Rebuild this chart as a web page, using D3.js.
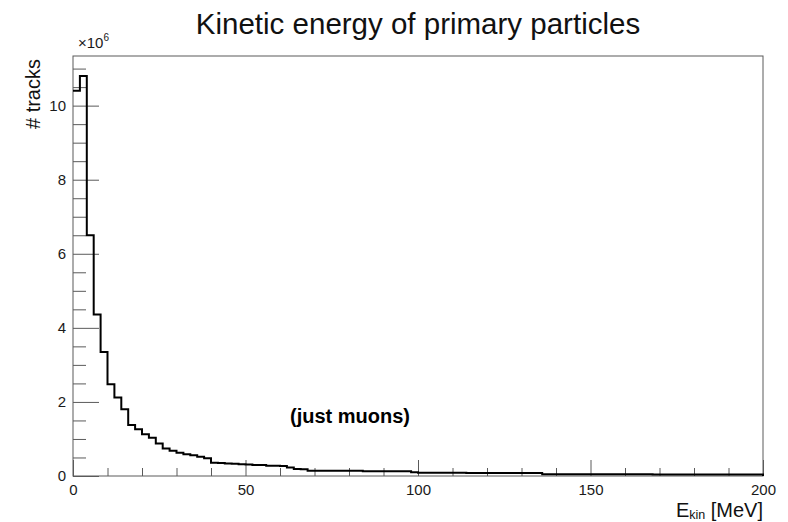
<!DOCTYPE html>
<html>
<head>
<meta charset="utf-8">
<script src="https://cdn.jsdelivr.net/npm/d3@7"></script>
<style>
  html, body { margin: 0; padding: 0; background: #fff; }
  svg { display: block; font-family: "Liberation Sans", Arial, Helvetica, sans-serif; }
</style>
</head>
<body>
<svg id="chart" width="788" height="522"></svg>
<script>
// Histogram of primary-particle kinetic energy: 100 bins of 2 MeV from 0 to 200 MeV.
// Bin contents are in units of 10^6 tracks.
const binWidth = 2;
const xRange = [0, 200];
const counts = [
  10.40, 10.80, 6.50, 4.36, 3.35, 2.48, 2.12, 1.80, 1.38, 1.26,
  1.13, 1.03, 0.88, 0.74, 0.68, 0.63, 0.59, 0.56, 0.52, 0.48,
  0.36, 0.35, 0.34, 0.33, 0.32, 0.31, 0.30, 0.30, 0.28, 0.28,
  0.27, 0.23, 0.19, 0.18, 0.14, 0.14, 0.14, 0.14, 0.14, 0.14,
  0.14, 0.14, 0.13, 0.13, 0.13, 0.13, 0.13, 0.13, 0.13, 0.10,
  0.09, 0.09, 0.09, 0.09, 0.09, 0.09, 0.09, 0.08, 0.08, 0.08,
  0.08, 0.08, 0.08, 0.08, 0.08, 0.08, 0.08, 0.08, 0.05, 0.05,
  0.05, 0.05, 0.05, 0.05, 0.05, 0.05, 0.05, 0.05, 0.05, 0.05,
  0.05, 0.05, 0.05, 0.05, 0.04, 0.04, 0.04, 0.04, 0.04, 0.04,
  0.04, 0.04, 0.04, 0.04, 0.04, 0.04, 0.04, 0.04, 0.04, 0.04
];
const xMajorTicks = [0, 50, 100, 150, 200];
const yMajorTicks = [0, 2, 4, 6, 8, 10];

const titleText = "Kinetic energy of primary particles";
const yTitle = "# tracks";
const noteText = "(just muons)";

const frame = { left: 73, right: 763, top: 56, bottom: 476 };
const yMax = 1.05 * d3.max(counts);

const svg = d3.select("#chart");

const x = d3.scaleLinear().domain(xRange).range([frame.left, frame.right]);
const y = d3.scaleLinear().domain([0, yMax]).range([frame.bottom, frame.top]);

const frameColor = "#5a5a5a";

// frame box
svg.append("rect")
  .attr("x", frame.left).attr("y", frame.top)
  .attr("width", frame.right - frame.left)
  .attr("height", frame.bottom - frame.top)
  .attr("fill", "none")
  .attr("stroke", frameColor)
  .attr("stroke-width", 1);

// minor ticks
const xMinor = d3.range(0, 201, 10).filter(v => v % 50 !== 0);
const yMinor = d3.range(0, yMax, 0.5).filter(v => Math.abs(v % 2) > 1e-9);

const xAxisMinor = d3.axisBottom(x).tickValues(xMinor).tickSizeInner(-8).tickSizeOuter(0).tickFormat("");
const xAxisMajor = d3.axisBottom(x).tickValues(xMajorTicks).tickSizeInner(-16).tickSizeOuter(0)
  .tickPadding(8).tickFormat(d3.format("d"));
const yAxisMinor = d3.axisLeft(y).tickValues(yMinor).tickSizeInner(-13).tickSizeOuter(0).tickFormat("");
const yAxisMajor = d3.axisLeft(y).tickValues(yMajorTicks).tickSizeInner(-26).tickSizeOuter(0)
  .tickPadding(7).tickFormat(d3.format("d"));

function styleAxis(g) {
  g.select(".domain").remove();
  g.selectAll(".tick line").attr("stroke", frameColor).attr("stroke-width", 1);
  g.selectAll(".tick text").attr("fill", "#1a1a1a").style("font-size", "15px");
}

svg.append("g").attr("transform", `translate(0,${frame.bottom})`).call(xAxisMinor).call(styleAxis);
svg.append("g").attr("transform", `translate(0,${frame.bottom})`).call(xAxisMajor).call(styleAxis);
svg.append("g").attr("transform", `translate(${frame.left},0)`).call(yAxisMinor).call(styleAxis);
svg.append("g").attr("transform", `translate(${frame.left},0)`).call(yAxisMajor).call(styleAxis);

// histogram outline
const pts = [];
counts.forEach((c, i) => {
  const lo = xRange[0] + i * binWidth;
  pts.push([lo, c], [lo + binWidth, c]);
});
pts.push([xRange[1], 0]);
const line = d3.line().x(d => x(d[0])).y(d => y(d[1]));
svg.append("path")
  .attr("d", line(pts))
  .attr("fill", "none")
  .attr("stroke", "#000")
  .attr("stroke-width", 2)
  .attr("stroke-linejoin", "miter");

// title
svg.append("text")
  .attr("x", 418).attr("y", 34)
  .attr("text-anchor", "middle")
  .attr("fill", "#111")
  .style("font-size", "29.5px")
  .text(titleText);

// exponent label
const expo = svg.append("text")
  .attr("x", 78).attr("y", 48)
  .attr("fill", "#1a1a1a")
  .style("font-size", "15px");
expo.append("tspan").text("\u00d710");
expo.append("tspan").attr("dy", -7).style("font-size", "10px").text("6");

// y-axis title
svg.append("text")
  .attr("transform", `translate(40,${frame.top + 3}) rotate(-90)`)
  .attr("text-anchor", "end")
  .attr("fill", "#111")
  .style("font-size", "20px")
  .text(yTitle);

// x-axis title
const xt = svg.append("text")
  .attr("x", frame.right).attr("y", 517)
  .attr("text-anchor", "end")
  .attr("fill", "#111")
  .style("font-size", "20px");
xt.append("tspan").text("E");
xt.append("tspan").attr("dy", 2).style("font-size", "12.5px").text("kin");
xt.append("tspan").attr("dy", -2).text(" [MeV]");

// annotation
svg.append("text")
  .attr("x", 350).attr("y", 423)
  .attr("text-anchor", "middle")
  .attr("fill", "#000")
  .style("font-size", "20px")
  .style("font-weight", "bold")
  .text(noteText);
</script>
</body>
</html>
